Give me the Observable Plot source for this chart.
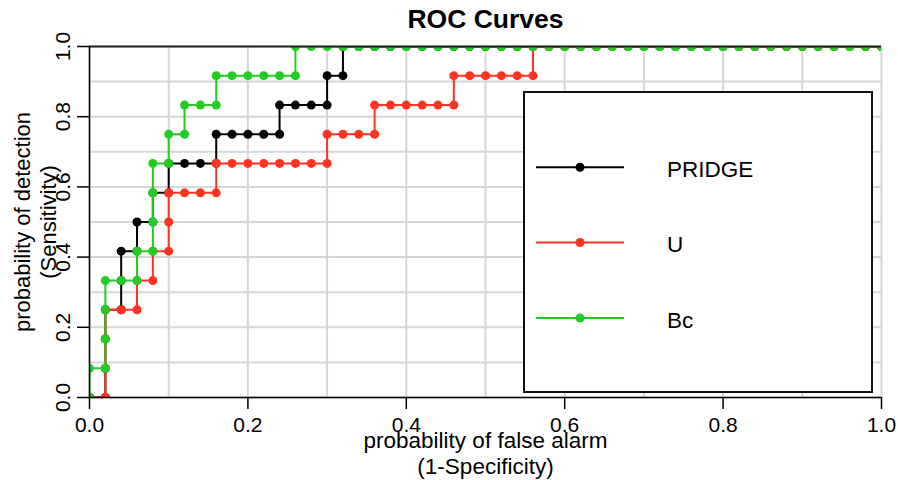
<!DOCTYPE html>
<html><head><meta charset="utf-8">
<script src="https://cdn.jsdelivr.net/npm/d3@7"></script>
<script src="https://cdn.jsdelivr.net/npm/@observablehq/plot@0.6"></script>
<style>
body{margin:0;background:#fff;font-family:"Liberation Sans",Arial,sans-serif;}
#wrap{position:relative;width:898px;height:480px;overflow:hidden;}
#legend{position:absolute;left:523px;top:91px;width:350px;height:302px;border:2px solid #111;background:#fff;box-sizing:border-box;}
#legend svg{position:absolute;left:-2px;top:-2px;}
</style></head><body><div id="wrap"></div>
<script>
const chartTitle = "ROC Curves";
const xTitle = "probability of false alarm\n(1-Specificity)";
const yTitle = "probability of detection\n(Sensitivity)";
const seriesNames = ["PRIDGE", "U", "Bc"];
const seriesColors = ["#000000", "#ff3322", "#22cc22"];

const pridgeFPR = [0,0.02,0.02,0.02,0.02,0.04,0.04,0.04,0.06,0.06,0.08,0.08,0.10,0.10,0.12,0.14,0.16,0.16,0.18,0.20,0.22,0.24,0.24,0.26,0.28,0.30,0.30,0.32,0.32,
  0.34,0.36,0.38,0.40,0.42,0.44,0.46,0.48,0.50,0.52,0.54,0.56,0.58,0.60,0.62,0.64,0.66,0.68,0.70,0.72,0.74,0.76,0.78,0.80,0.82,0.84,0.86,0.88,0.90,0.92,0.94,0.96,0.98,1.00];
const pridgeTPR = [0,0,0.083,0.167,0.25,0.25,0.333,0.417,0.417,0.5,0.5,0.583,0.583,0.667,0.667,0.667,0.667,0.75,0.75,0.75,0.75,0.75,0.833,0.833,0.833,0.833,0.917,0.917,1,
  1,1,1,1,1,1,1,1,1,1,1,1,1,1,1,1,1,1,1,1,1,1,1,1,1,1,1,1,1,1,1,1,1,1];

const uFPR = [0,0.02,0.02,0.02,0.02,0.04,0.06,0.06,0.08,0.08,0.10,0.10,0.10,0.12,0.14,0.16,0.16,0.18,0.20,0.22,0.24,0.26,0.28,0.30,0.30,0.32,0.34,0.36,0.36,0.38,0.40,0.42,0.44,0.46,0.46,0.48,0.50,0.52,0.54,0.56,0.56,
  0.58,0.60,0.62,0.64,0.66,0.68,0.70,0.72,0.74,0.76,0.78,0.80,0.82,0.84,0.86,0.88,0.90,0.92,0.94,0.96,0.98,1.00];
const uTPR = [0,0,0.083,0.167,0.25,0.25,0.25,0.333,0.333,0.417,0.417,0.5,0.583,0.583,0.583,0.583,0.667,0.667,0.667,0.667,0.667,0.667,0.667,0.667,0.75,0.75,0.75,0.75,0.833,0.833,0.833,0.833,0.833,0.833,0.917,0.917,0.917,0.917,0.917,0.917,1,
  1,1,1,1,1,1,1,1,1,1,1,1,1,1,1,1,1,1,1,1,1,1];

const bcFPR = [0,0,0.02,0.02,0.02,0.02,0.04,0.06,0.06,0.08,0.08,0.08,0.08,0.10,0.10,0.12,0.12,0.14,0.16,0.16,0.18,0.20,0.22,0.24,0.26,0.26,
  0.28,0.30,0.32,0.34,0.36,0.38,0.40,0.42,0.44,0.46,0.48,0.50,0.52,0.54,0.56,0.58,0.60,0.62,0.64,0.66,0.68,0.70,0.72,0.74,0.76,0.78,0.80,0.82,0.84,0.86,0.88,0.90,0.92,0.94,0.96,0.98,1.00];
const bcTPR = [0,0.083,0.083,0.167,0.25,0.333,0.333,0.333,0.417,0.417,0.5,0.583,0.667,0.667,0.75,0.75,0.833,0.833,0.833,0.917,0.917,0.917,0.917,0.917,0.917,1,
  1,1,1,1,1,1,1,1,1,1,1,1,1,1,1,1,1,1,1,1,1,1,1,1,1,1,1,1,1,1,1,1,1,1,1,1,1];

const xTicks = [0, 0.2, 0.4, 0.6, 0.8, 1.0];
const yTicks = [0, 0.2, 0.4, 0.6, 0.8, 1.0];
const gridTicks = [0, 0.1, 0.2, 0.3, 0.4, 0.5, 0.6, 0.7, 0.8, 0.9, 1.0];

const seriesFPR = [pridgeFPR, uFPR, bcFPR];
const seriesTPR = [pridgeTPR, uTPR, bcTPR];
const tables = seriesNames.map((name, i) =>
  seriesFPR[i].map((f, j) => ({series: name, fpr: f, tpr: seriesTPR[i][j]})));

const fmt = d3.format(".1f");
const seriesMarks = [];
tables.forEach((rows, i) => {
  seriesMarks.push(Plot.line(rows, {x: "fpr", y: "tpr", stroke: seriesColors[i], strokeWidth: 2, clip: true}));
  seriesMarks.push(Plot.dot(rows, {x: "fpr", y: "tpr", r: 4.5, fill: seriesColors[i], stroke: "none", clip: true}));
});

const chart = Plot.plot({
  width: 898, height: 480,
  marginLeft: 89, marginRight: 17, marginTop: 46, marginBottom: 83,
  x: {domain: [0, 1]},
  y: {domain: [0, 1]},
  style: {fontFamily: "'Liberation Sans', Arial, sans-serif", fontSize: "21px", background: "#fff", color: "#000"},
  marks: [
    Plot.ruleX(gridTicks, {x: d => d, stroke: "#d6d6d6", strokeWidth: 2}),
    Plot.ruleY(gridTicks, {y: d => d, stroke: "#d6d6d6", strokeWidth: 2}),
    ...seriesMarks,
    Plot.ruleY([1], {stroke: "#222", strokeWidth: 2}),
    Plot.ruleX([0], {stroke: "#000", strokeWidth: 1.5}),
    Plot.ruleY([0], {stroke: "#000", strokeWidth: 1.5}),
    Plot.axisX({ticks: xTicks, tickSize: 12, tickPadding: 8, tickFormat: fmt, fontSize: 21, strokeWidth: 1.5, label: null}),
    Plot.axisY({ticks: yTicks, tickSize: 12, tickFormat: () => "", strokeWidth: 1.5, label: null}),
    Plot.text(yTicks, {y: d => d, text: d => fmt(d), frameAnchor: "left", dx: -26.5, rotate: -90, textAnchor: "middle", lineAnchor: "middle", fontSize: 21, fill: "#000"}),
    Plot.text([yTitle], {text: d => d, frameAnchor: "left", dx: -55, rotate: -90, textAnchor: "middle", lineAnchor: "middle", fontSize: 22, lineHeight: 1.18, fill: "#000"}),
    Plot.text([xTitle], {text: d => d, frameAnchor: "bottom", dy: 55.5, textAnchor: "middle", lineAnchor: "middle", fontSize: 22.5, lineHeight: 1.12, fill: "#000"}),
    Plot.text([chartTitle], {text: d => d, frameAnchor: "top", dy: -27, textAnchor: "middle", lineAnchor: "middle", fontSize: 26.5, fontWeight: "bold", fill: "#000"})
  ]
});

const wrap = document.getElementById("wrap");
wrap.appendChild(chart);

// legend box
const legend = document.createElement("div");
legend.id = "legend";
const rowBase = [85.7, 161, 236.5];
let svg = `<svg width="350" height="302" xmlns="http://www.w3.org/2000/svg" font-family="'Liberation Sans', Arial, sans-serif">`;
seriesNames.forEach((name, i) => {
  const yb = rowBase[i];
  const yl = yb - 9.5;
  svg += `<line x1="13" x2="101" y1="${yl}" y2="${yl}" stroke="${seriesColors[i]}" stroke-width="2"/>`;
  svg += `<circle cx="57" cy="${yl}" r="4.5" fill="${seriesColors[i]}"/>`;
  svg += `<text x="144" y="${yb}" font-size="22.5" fill="#000">${name}</text>`;
});
svg += `</svg>`;
legend.innerHTML = svg;
wrap.appendChild(legend);
</script>
</body></html>
